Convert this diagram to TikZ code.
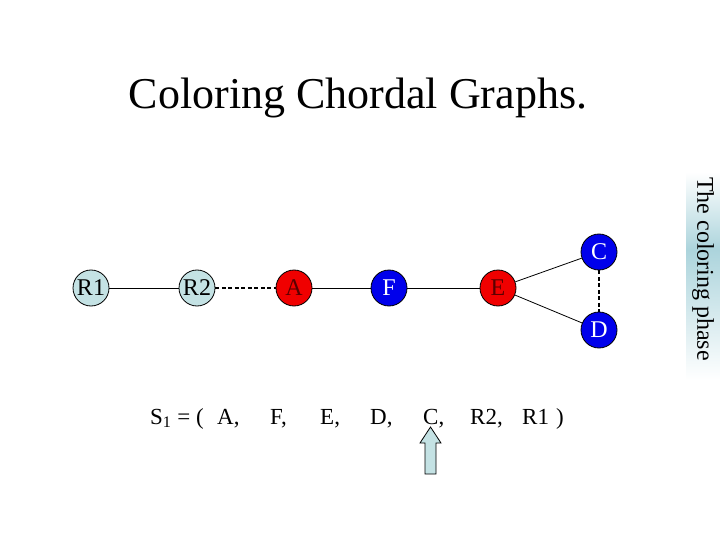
\documentclass[tikz,border=0pt]{standalone}
\usepackage{fontspec}
\setmainfont{Liberation Serif}
\definecolor{lightnode}{RGB}{196,226,228}
\definecolor{sideblue}{RGB}{172,212,220}
\definecolor{nodeblue}{RGB}{0,0,235}
\definecolor{nodered}{RGB}{240,0,0}
\definecolor{darkredtext}{RGB}{90,0,0}
\tikzset{
  vtx/.style={circle, draw=black, line width=0.8pt, minimum size=36pt, inner sep=0pt, font=\fontsize{24}{24}\selectfont},
  lightv/.style={vtx, fill=lightnode, text=black},
  redv/.style={vtx, fill=nodered, text=darkredtext},
  bluev/.style={vtx, fill=nodeblue, text=white},
  edgeline/.style={draw=black, line width=0.8pt},
  dashedge/.style={draw=black, line width=2pt, dash pattern=on 4pt off 2.5pt},
  seq/.style={anchor=base west, inner sep=0pt, font=\fontsize{23}{23}\selectfont},
}
\begin{document}
\begin{tikzpicture}[x=1pt,y=-1pt]
\useasboundingbox (0,0) rectangle (720,540);
% sidebar
\shade[top color=white, bottom color=sideblue] (686,172) rectangle (720,250);
\shade[top color=sideblue, bottom color=white] (686,250) rectangle (720,380);
\node[rotate=-90, inner sep=0pt, font=\fontsize{24}{24}\selectfont] (side) at (703,269) {The coloring phase};
% title
\node[anchor=base, inner sep=0pt, font=\fontsize{44}{44}\selectfont] (title) at (358,109) {Coloring Chordal Graphs.};
% vertices
\node[lightv] (R1) at (91,288) {R1};
\node[lightv] (R2) at (197,288) {R2};
\node[redv] (A) at (294,288) {A};
\node[bluev] (F) at (389,288) {F};
\node[redv] (E) at (498,288) {E};
\node[bluev] (C) at (599,252) {C};
\node[bluev] (D) at (599,330) {D};
% edges
\draw[edgeline] (R1) -- (R2);
\draw[dashedge] (R2) -- (A);
\draw[edgeline] (A) -- (F);
\draw[edgeline] (F) -- (E);
\draw[edgeline] (E) -- (C);
\draw[edgeline] (E) -- (D);
\draw[dashedge] (C) -- (D);
% sequence
\node[seq] (s0) at (150,424) {S\textsubscript{1} = (};
\node[seq] (s1) at (217,424) {A,};
\node[seq] (s2) at (270,424) {F,};
\node[seq] (s3) at (320,424) {E,};
\node[seq] (s4) at (370,424) {D,};
\node[seq] (s5) at (423,424) {C,};
\node[seq] (s6) at (470,424) {R2,};
\node[seq] (s7) at (522,424) {R1};
\node[seq] (s8) at (556,424) {)};
% pointer arrow
\draw[fill=lightnode, draw=black, line width=0.8pt]
  (430.5,427) -- (441,443) -- (436,443) -- (436,474) -- (425,474) -- (425,443) -- (420,443) -- cycle;
\end{tikzpicture}
\end{document}
